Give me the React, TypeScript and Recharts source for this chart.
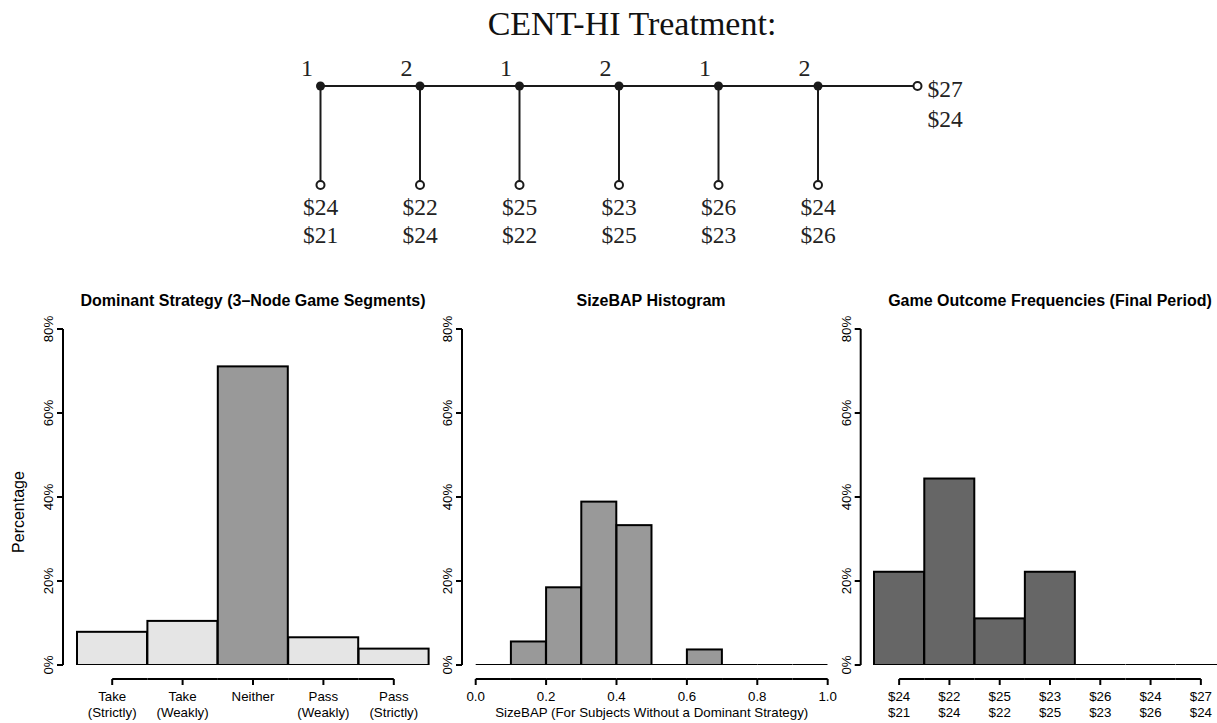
import React from 'react';
import { BarChart, Bar, XAxis, YAxis, ScatterChart, Scatter } from 'recharts';

const SANS = '"Liberation Sans", Arial, Helvetica, sans-serif';
const SERIF = '"Liberation Serif", "Times New Roman", serif';

// ---------------- data ----------------
const treeTitle = 'CENT-HI Treatment:';
const movers = ['1', '2', '1', '2', '1', '2'];
const payoffPlayer1 = ['$24', '$22', '$25', '$23', '$26', '$24', '$27'];
const payoffPlayer2 = ['$21', '$24', '$22', '$25', '$23', '$26', '$24'];

const strategyLabels = ['Take\n(Strictly)', 'Take\n(Weakly)', 'Neither', 'Pass\n(Weakly)', 'Pass\n(Strictly)'];
const strategyPct = [7.9, 10.5, 71.1, 6.6, 3.9];
const strategyFill = ['#e5e5e5', '#e5e5e5', '#999999', '#e5e5e5', '#e5e5e5'];

const sizeBapBinStart = [0.0, 0.1, 0.2, 0.3, 0.4, 0.5, 0.6, 0.7, 0.8, 0.9];
const sizeBapBinWidth = 0.1;
const sizeBapPct = [0, 5.6, 18.5, 38.9, 33.3, 0, 3.7, 0, 0, 0];
const sizeBapTicks = [0, 0.2, 0.4, 0.6, 0.8, 1.0];
const sizeBapFill = '#999999';

const outcomePct = [22.2, 44.4, 11.1, 22.2, 0, 0, 0];
const outcomeFill = '#666666';

const percentTicks = [0, 20, 40, 60, 80];

const titles = ['Dominant Strategy (3\u2013Node Game Segments)', 'SizeBAP Histogram', 'Game Outcome Frequencies (Final Period)'];
const yLabel = 'Percentage';
const sizeBapXLabel = 'SizeBAP (For Subjects Without a Dominant Strategy)';

// ---------------- derived tables ----------------
const strategyData = strategyLabels.map((name, i) => ({ name, value: strategyPct[i], fill: strategyFill[i] }));
const sizeBapData = sizeBapBinStart.map((start, i) => ({ bin: String(i), start, value: sizeBapPct[i], fill: sizeBapFill }));
const outcomeData = payoffPlayer1.map((p1, i) => ({ name: p1 + '\n' + payoffPlayer2[i], value: outcomePct[i], fill: outcomeFill }));

const mainLine = [{ x: 0, y: 0 }, { x: movers.length, y: 0 }];
const stems = movers.map((_, i) => [{ x: i, y: 0 }, { x: i, y: -1 }]);
const decisionNodes = movers.map((player, i) => ({ x: i, y: 0, player }));
const terminalNodes = payoffPlayer1.map((p1, i) =>
  i < movers.length
    ? { x: i, y: -1, p1, p2: payoffPlayer2[i], side: 'below' }
    : { x: i, y: 0, p1, p2: payoffPlayer2[i], side: 'right' }
);

// ---------------- layout ----------------
const W = 1217;
const H = 723;
const TREE_H = 260;
const TREE_X0 = 320.5;
const TREE_DX = 99.5;
const TREE_Y0 = 86;
const TREE_DY = 99;

const PANEL_TOP = 280;
const PANEL_H = 443;
const PLOT_TOP = 49;
const XAXIS_H = 58;
const BAR_SPAN = 352;
const AXIS_GAP = 14;
const LINE = '#1a1a1a';

const Blank = () => <g />;

const DecisionNode = (props: any) => {
  const { cx, cy, payload } = props;
  return (
    <g>
      <circle cx={cx} cy={cy} r={4.5} fill={LINE} />
      <text x={cx - 13.5} y={cy - 10} textAnchor="middle" fontFamily={SERIF} fontSize={24} fill="#222">
        {payload.player}
      </text>
    </g>
  );
};

const TerminalNode = (props: any) => {
  const { cx, cy, payload } = props;
  const right = payload.side === 'right';
  return (
    <g>
      <circle cx={cx} cy={cy} r={4} fill="#fff" stroke={LINE} strokeWidth={2} />
      {right ? (
        <g fontFamily={SERIF} fontSize={23.5} fill="#222">
          <text x={cx + 10} y={cy + 10.7} textAnchor="start">{payload.p1}</text>
          <text x={cx + 10} y={cy + 40.7} textAnchor="start">{payload.p2}</text>
        </g>
      ) : (
        <g fontFamily={SERIF} fontSize={23.5} fill="#222">
          <text x={cx} y={cy + 30} textAnchor="middle">{payload.p1}</text>
          <text x={cx} y={cy + 58} textAnchor="middle">{payload.p2}</text>
        </g>
      )}
    </g>
  );
};

const HistBar = (props: any) => {
  const { x, y, width, height, payload } = props;
  const fill = (payload && payload.fill) || props.fill;
  if (!height || Math.abs(height) < 0.5) {
    const yy = y + (height || 0);
    return <line x1={x} x2={x + width} y1={yy} y2={yy} stroke="#000" strokeWidth={2} />;
  }
  return <rect x={x} y={y} width={width} height={height} fill={fill} stroke="#000" strokeWidth={2} />;
};

const PctTick = (props: any) => {
  const { x, y, payload } = props;
  return (
    <text x={x} y={y} transform={`rotate(-90, ${x}, ${y})`} textAnchor="middle" fontFamily={SANS} fontSize={13.3} fill="#000">
      {payload.value + '%'}
    </text>
  );
};

const makeCatTick = (n: number) => (props: any) => {
  const { x, y, payload, index } = props;
  const half = BAR_SPAN / n / 2;
  const ly = y + AXIS_GAP;
  const x1 = index === 0 ? x : x - half;
  const x2 = index === n - 1 ? x : x + half;
  const lines = String(payload.value).split('\n');
  return (
    <g>
      <line x1={x1} x2={x2} y1={ly} y2={ly} stroke="#000" strokeWidth={2} />
      <line x1={x} x2={x} y1={ly} y2={ly + 6} stroke="#000" strokeWidth={2} />
      {lines.map((t, k) => (
        <text key={k} x={x} y={ly + 22 + k * 16} textAnchor="middle" fontFamily={SANS} fontSize={13.3} fill="#000">
          {t}
        </text>
      ))}
    </g>
  );
};

// histogram axis: each bin tick draws its stretch of axis line; ticks and labels sit on bin edges
const isTickValue = (v: number) => sizeBapTicks.some((t) => Math.abs(t - v) < 1e-9);
const BinTick = (props: any) => {
  const { x, y, index } = props;
  const n = sizeBapBinStart.length;
  const half = BAR_SPAN / n / 2;
  const ly = y + AXIS_GAP;
  const start = sizeBapBinStart[index];
  const edges: { v: number; px: number }[] = [];
  if (isTickValue(start)) edges.push({ v: start, px: x - half });
  if (index === n - 1 && isTickValue(start + sizeBapBinWidth)) edges.push({ v: start + sizeBapBinWidth, px: x + half });
  return (
    <g>
      <line x1={x - half} x2={x + half} y1={ly} y2={ly} stroke="#000" strokeWidth={2} />
      {edges.map((e, k) => (
        <g key={k}>
          <line x1={e.px} x2={e.px} y1={ly} y2={ly + 6} stroke="#000" strokeWidth={2} />
          <text x={e.px} y={ly + 22} textAnchor="middle" fontFamily={SANS} fontSize={13.3} fill="#000">
            {e.v.toFixed(1)}
          </text>
        </g>
      ))}
    </g>
  );
};

const yAxisProps = (width: number) => ({
  width,
  type: 'number' as const,
  domain: [0, 80],
  ticks: percentTicks,
  interval: 0 as const,
  allowDataOverflow: true,
  tick: PctTick,
  tickSize: 6,
  tickMargin: 4,
  axisLine: { stroke: '#000', strokeWidth: 2 },
  tickLine: { stroke: '#000', strokeWidth: 2 },
});

const panelStyle = (left: number): React.CSSProperties => ({ position: 'absolute', left, top: PANEL_TOP });

export default function App() {
  const p1Left = 0, p1Y = 63, p1Gap = 14;
  const p2Left = 436, p2Y = 26, p2Gap = 13.7;
  const p3Left = 836, p3Y = 24.7, p3Gap = 13.3;
  return (
    <div style={{ position: 'absolute', left: 0, top: 0, width: W, height: H, overflow: 'hidden', background: '#fff' }}>
      <style>{'body{margin:0;overflow:hidden;}'}</style>

      <div style={{ position: 'absolute', left: 0, top: 0 }}>
        <ScatterChart width={W} height={TREE_H} margin={{ top: 0, right: 0, bottom: 0, left: 0 }}>
          <XAxis type="number" dataKey="x" hide allowDataOverflow domain={[-TREE_X0 / TREE_DX, (W - TREE_X0) / TREE_DX]} />
          <YAxis type="number" dataKey="y" hide allowDataOverflow domain={[-(TREE_H - TREE_Y0) / TREE_DY, TREE_Y0 / TREE_DY]} />
          <Scatter data={mainLine} line={{ stroke: LINE, strokeWidth: 2 }} stroke={LINE} fill="none" shape={Blank} isAnimationActive={false} />
          {stems.map((d, i) => (
            <Scatter key={i} data={d} line={{ stroke: LINE, strokeWidth: 2 }} stroke={LINE} fill="none" shape={Blank} isAnimationActive={false} />
          ))}
          <Scatter data={decisionNodes} shape={DecisionNode} isAnimationActive={false} />
          <Scatter data={terminalNodes} shape={TerminalNode} isAnimationActive={false} />
        </ScatterChart>
      </div>

      <div style={panelStyle(p1Left)}>
        <BarChart width={p1Y + p1Gap + BAR_SPAN + 11} height={PANEL_H} data={strategyData} barCategoryGap={0} barGap={0}
          margin={{ top: PLOT_TOP, right: 11, bottom: 0, left: 0 }}>
          <XAxis dataKey="name" type="category" height={XAXIS_H} padding={{ left: p1Gap, right: 0 }} axisLine={false} tickLine={false}
            tickSize={0} tickMargin={0} interval={0} tick={makeCatTick(strategyData.length)} />
          <YAxis {...yAxisProps(p1Y)} />
          <Bar dataKey="value" shape={HistBar} isAnimationActive={false} />
        </BarChart>
      </div>

      <div style={panelStyle(p2Left)}>
        <BarChart width={p2Y + p2Gap + BAR_SPAN + 12} height={PANEL_H} data={sizeBapData} barCategoryGap={0} barGap={0}
          margin={{ top: PLOT_TOP, right: 12, bottom: 0, left: 0 }}>
          <XAxis dataKey="bin" type="category" height={XAXIS_H} padding={{ left: p2Gap, right: 0 }} axisLine={false} tickLine={false}
            tickSize={0} tickMargin={0} interval={0} tick={BinTick} />
          <YAxis {...yAxisProps(p2Y)} />
          <Bar dataKey="value" shape={HistBar} isAnimationActive={false} />
        </BarChart>
      </div>

      <div style={panelStyle(p3Left)}>
        <BarChart width={p3Y + p3Gap + BAR_SPAN} height={PANEL_H} data={outcomeData} barCategoryGap={0} barGap={0}
          margin={{ top: PLOT_TOP, right: 0, bottom: 0, left: 0 }}>
          <XAxis dataKey="name" type="category" height={XAXIS_H} padding={{ left: p3Gap, right: 0 }} axisLine={false} tickLine={false}
            tickSize={0} tickMargin={0} interval={0} tick={makeCatTick(outcomeData.length)} />
          <YAxis {...yAxisProps(p3Y)} />
          <Bar dataKey="value" shape={HistBar} isAnimationActive={false} />
        </BarChart>
      </div>

      <svg width={W} height={H} style={{ position: 'absolute', left: 0, top: 0, pointerEvents: 'none' }}>
        <text x={632} y={34.5} textAnchor="middle" fontFamily={SERIF} fontSize={34} fill="#111">{treeTitle}</text>
        <text x={253} y={306} textAnchor="middle" fontFamily={SANS} fontSize={16} fontWeight="bold" fill="#000">{titles[0]}</text>
        <text x={651} y={306} textAnchor="middle" fontFamily={SANS} fontSize={16} fontWeight="bold" fill="#000">{titles[1]}</text>
        <text x={1050} y={306} textAnchor="middle" fontFamily={SANS} fontSize={16} fontWeight="bold" fill="#000">{titles[2]}</text>
        <text x={24} y={512} transform="rotate(-90, 24, 512)" textAnchor="middle" fontFamily={SANS} fontSize={16} fill="#000">{yLabel}</text>
        <text x={651.7} y={717} textAnchor="middle" fontFamily={SANS} fontSize={13.3} fill="#000">{sizeBapXLabel}</text>
      </svg>
    </div>
  );
}
